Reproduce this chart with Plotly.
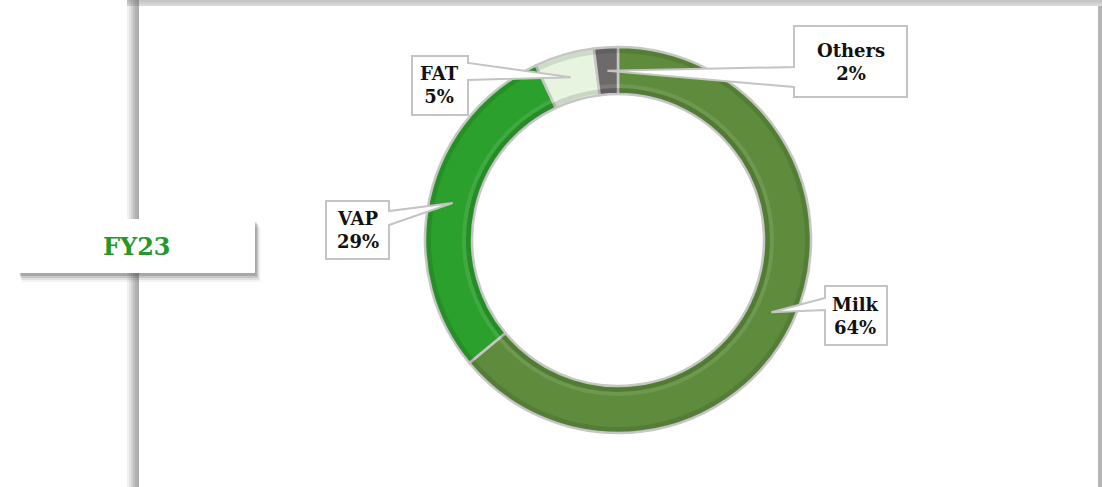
import math
import plotly.graph_objects as go

# Revenue mix FY23
segments = ["Milk", "VAP", "FAT", "Others"]
shares = [64, 29, 5, 2]
colors = ["#5e8c3c", "#2ca02c", "#e6f4e0", "#6e6a6a"]
period = "FY23"

W, H = 1102, 487
CX, CY, R_OUT, R_IN = 618, 240, 193, 146


def px(x):
    return x / W


def py(y):
    return 1 - y / H


def ring_domain(r):
    return dict(x=[px(CX - r), px(CX + r)], y=[py(CY + r), py(CY - r)])


fig = go.Figure()

# donut: clockwise from 12 o'clock
fig.add_trace(go.Pie(
    labels=segments, values=shares, sort=False, direction="clockwise", rotation=0,
    hole=R_IN / R_OUT, textinfo="none", hoverinfo="label+percent",
    marker=dict(colors=colors, line=dict(color="#c6c6c6", width=2.5)),
    domain=ring_domain(R_OUT), showlegend=False,
))

# soft bevel: shaded bands along the outer and inner edges of the ring
for r_o, r_i, col in [(R_OUT - 1.5, R_OUT - 6, "rgba(0,0,0,0.10)"),
                      (R_IN + 6, R_IN + 1.5, "rgba(0,0,0,0.12)"),
                      (R_IN + 10, R_IN + 6, "rgba(255,255,255,0.10)")]:
    fig.add_trace(go.Pie(
        values=[1], sort=False, hole=r_i / r_o, textinfo="none", hoverinfo="skip",
        marker=dict(colors=[col], line=dict(width=0)),
        domain=ring_domain(r_o), showlegend=False,
    ))

shapes = []

# panel frame with soft shadow on the top and left
for i, op in enumerate([0.08, 0.16, 0.26, 0.36, 0.44, 0.48]):
    shapes.append(dict(type="rect", xref="paper", yref="paper", layer="below",
                       x0=px(127 + 2 * i), x1=px(129 + 2 * i), y0=0, y1=py(0),
                       fillcolor=f"rgba(80,80,80,{op})", line=dict(width=0)))
for i, op in enumerate([0.4, 0.34, 0.26]):
    shapes.append(dict(type="rect", xref="paper", yref="paper", layer="below",
                       x0=px(127), x1=px(1102), y0=py(2 * i + 2), y1=py(2 * i),
                       fillcolor=f"rgba(110,110,110,{op})", line=dict(width=0)))
shapes.append(dict(type="rect", xref="paper", yref="paper", layer="below",
                   x0=px(140), x1=px(1098), y0=0, y1=py(6),
                   fillcolor="white", line=dict(width=0)))
shapes.append(dict(type="rect", xref="paper", yref="paper", layer="below",
                   x0=px(1098), x1=1, y0=0, y1=py(6),
                   fillcolor="rgba(120,120,120,0.55)", line=dict(width=0)))

# period tag box with drop shadow
for d, op in [(9, 0.06), (7, 0.1), (5, 0.16), (3, 0.22)]:
    shapes.append(dict(type="rect", xref="paper", yref="paper", layer="above",
                       x0=px(19 + d * 0.3), x1=px(255 + d * 0.6), y0=py(273 + d), y1=py(219 + d),
                       fillcolor=f"rgba(60,60,60,{op})", line=dict(width=0)))
shapes.append(dict(type="rect", xref="paper", yref="paper", layer="above",
                   x0=px(19), x1=px(255), y0=py(273), y1=py(219),
                   fillcolor="white", line=dict(width=0)))

# callout boxes: (x0, y0, x1, y1, attach side, pointer base top, pointer base bottom)
callouts = {
    "Milk": (825, 286, 887, 345, "left", 298, 310),
    "VAP": (326, 201, 389, 259, "right", 211, 225),
    "FAT": (412, 56, 468, 115, "right", 63, 80),
    "Others": (794, 26, 907, 97, "left", 67, 87),
}

total = sum(shares)
start = 0.0
annotations = []
for name, val in zip(segments, shares):
    sweep = 360.0 * val / total
    mid = math.radians(start + sweep / 2)
    start += sweep
    r_tip = (R_OUT + R_IN) / 2
    tx, ty = CX + r_tip * math.sin(mid), CY - r_tip * math.cos(mid)
    x0, y0, x1, y1, side, b0, b1 = callouts[name]
    if side == "left":
        pts = [(x0, y0), (x1, y0), (x1, y1), (x0, y1), (x0, b1), (tx, ty), (x0, b0)]
    else:
        pts = [(x0, y0), (x1, y0), (x1, b0), (tx, ty), (x1, b1), (x1, y1), (x0, y1)]
    path = "M " + " L ".join(f"{px(a):.5f},{py(b):.5f}" for a, b in pts) + " Z"
    shapes.append(dict(type="path", xref="paper", yref="paper", layer="above", path=path,
                       fillcolor="white", line=dict(color="#c4c4c4", width=2)))
    annotations.append(dict(x=px((x0 + x1) / 2), y=py((y0 + y1) / 2), xref="paper", yref="paper",
                            text=f"<b>{name}</b><br><b>{val}%</b>", showarrow=False,
                            xanchor="center", yanchor="middle", align="center",
                            font=dict(family="DejaVu Serif", size=18, color="#111111")))

annotations.append(dict(x=px(137), y=py(246), xref="paper", yref="paper",
                        text=f"<b>{period}</b>", showarrow=False,
                        xanchor="center", yanchor="middle",
                        font=dict(family="DejaVu Serif", size=24, color="#22992a")))

fig.update_layout(
    width=W, height=H, margin=dict(l=0, r=0, t=0, b=0),
    paper_bgcolor="white", plot_bgcolor="white",
    shapes=shapes, annotations=annotations,
)

fig.write_html("out.html", config={"displayModeBar": False})
